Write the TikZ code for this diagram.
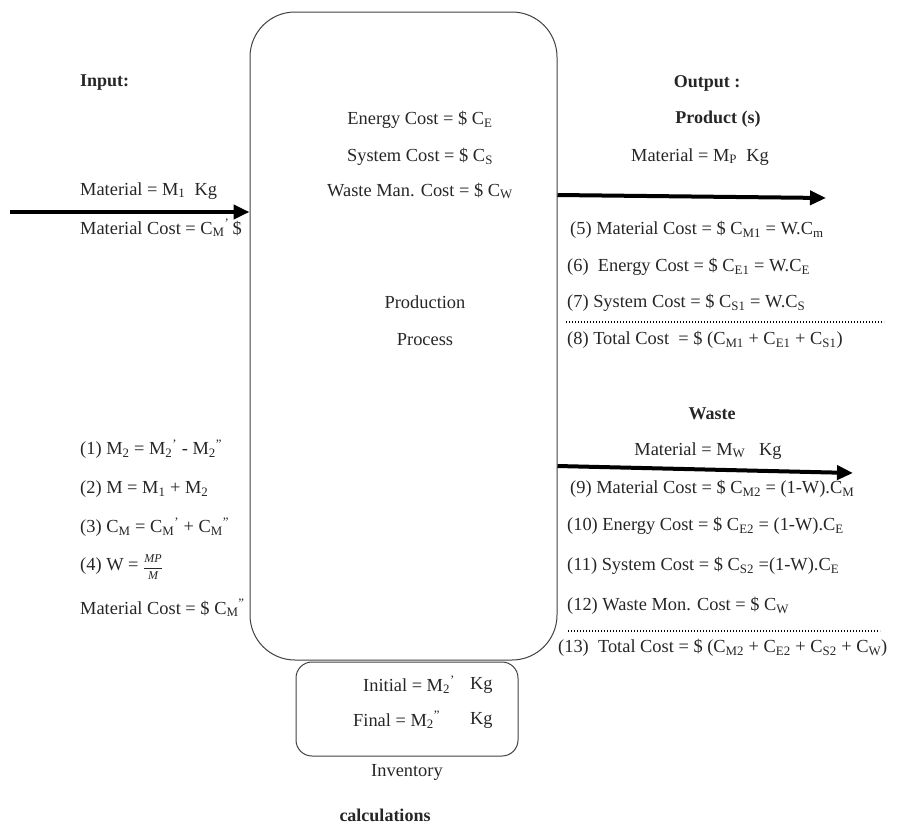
\documentclass[tikz,border=0pt]{standalone}
\usepackage{fontspec}
\setmainfont{Liberation Serif}
\usetikzlibrary{arrows.meta}
\newcommand\lowsub[1]{\textsubscript{#1}}
\newcommand\prm{\textsuperscript{'}}
\newcommand\dprm{\textsuperscript{''}}
\begin{document}
\begin{tikzpicture}[x=1pt,y=-1pt,
  txt/.style={font=\fontsize{18.4}{20}\selectfont, inner sep=0pt, anchor=west, text=black!85},
  ctxt/.style={font=\fontsize{18.4}{20}\selectfont, inner sep=0pt, text=black!85},
  btxt/.style={font=\fontsize{18}{20}\selectfont\bfseries, inner sep=0pt, text=black!85},
  bigarrow/.style={line width=4pt, -{Triangle[length=16pt,width=14pt]}},
  dotline/.style={line width=1.6pt, dash pattern=on 1.4pt off 1.6pt},
  boxline/.style={draw=black!75, line width=1pt}]
\useasboundingbox (0,0) rectangle (897,828);
% main process box
\node[boxline, rounded corners=45pt, minimum width=307pt, minimum height=648pt, inner sep=0pt] (proc) at (403.5,336) {};
% inventory box
\node[boxline, rounded corners=16pt, minimum width=222pt, minimum height=94pt, inner sep=0pt] (inv) at (407,709) {};

% input
\node[btxt, anchor=west] (inlbl) at (80,83) {Input:};
\node[txt] (inmat) at (80,191) {Material = M\lowsub{1}\ \ Kg};
\node[txt] (incost) at (80,228) {Material Cost = C\lowsub{M}\prm\,\$};
\coordinate (inStart) at (10,212);
\draw[bigarrow] (inStart) -- (inStart -| proc.west);

% process texts
\node[ctxt] (ec) at (420,120) {Energy Cost = \$ C\lowsub{E}};
\node[ctxt] (sc) at (420,157) {System Cost = \$ C\lowsub{S}};
\node[ctxt] (wc) at (420,191) {Waste Man. Cost = \$ C\lowsub{W}};
\node[ctxt] (prod) at (425,302) {Production};
\node[ctxt] (procl) at (425,340) {Process};

% output product
\node[btxt] (outlbl) at (707,83) {Output :};
\node[btxt] (prodlbl) at (718,119) {Product (s)};
\node[ctxt] (pmat) at (700,157) {Material = M\lowsub{P}\ \ Kg};
\coordinate (prodEnd) at (826,198);
\draw[bigarrow] (proc.east |- 0,195) -- (prodEnd);
\node[txt] (e5) at (570,230) {(5) Material Cost = \$ C\lowsub{M1} = W.C\lowsub{m}};
\node[txt] (e6) at (567,267) {(6)\ \ Energy Cost = \$ C\lowsub{E1} = W.C\lowsub{E}};
\node[txt] (e7) at (567,303) {(7) System Cost = \$ C\lowsub{S1} = W.C\lowsub{S}};
\coordinate (d1a) at (566,322);
\coordinate (d1b) at (884,322);
\draw[dotline] (d1a) -- (d1b);
\node[txt] (e8) at (567,340) {(8) Total Cost\ \ = \$ (C\lowsub{M1} + C\lowsub{E1} + C\lowsub{S1})};

% output waste
\node[btxt] (wlbl) at (712,414) {Waste};
\node[ctxt] (wmat) at (708,451) {Material = M\lowsub{W}\ \ \ Kg};
\coordinate (wEnd) at (853,473);
\draw[bigarrow] (proc.east |- 0,466) -- (wEnd);
\node[txt] (e9) at (570,489) {(9) Material Cost = \$ C\lowsub{M2} = (1-W).C\lowsub{M}};
\node[txt] (e10) at (567,526) {(10) Energy Cost = \$ C\lowsub{E2} = (1-W).C\lowsub{E}};
\node[txt] (e11) at (567,566) {(11) System Cost = \$ C\lowsub{S2} =(1-W).C\lowsub{E}};
\node[txt] (e12) at (567,606) {(12) Waste Mon. Cost = \$ C\lowsub{W}};
\coordinate (d2a) at (568,631);
\coordinate (d2b) at (880,631);
\draw[dotline] (d2a) -- (d2b);
\node[txt] (e13) at (558,648) {(13)\ \ Total Cost = \$ (C\lowsub{M2} + C\lowsub{E2} + C\lowsub{S2} + C\lowsub{W})};

% left equations
\node[txt] (e1) at (80,449) {(1) M\lowsub{2} = M\lowsub{2}\prm\ - M\lowsub{2}\dprm};
\node[txt] (e2) at (80,489) {(2) M = M\lowsub{1} + M\lowsub{2}};
\node[txt] (e3) at (80,527) {(3) C\lowsub{M} = C\lowsub{M}\prm\ + C\lowsub{M}\dprm};
\node[txt] (e4) at (80,567) {(4) W = {\fontsize{12}{13}\selectfont$\displaystyle\frac{\mathit{MP}}{\mathit{M}}$}};
\node[txt] (lmc) at (80,608) {Material Cost = \$ C\lowsub{M}\dprm};

% inventory
\node[txt] (ini) at (363,685) {Initial = M\lowsub{2}\prm};
\node[txt] (inikg) at (470,685) {Kg};
\node[txt] (fin) at (353,720) {Final = M\lowsub{2}\dprm};
\node[txt] (finkg) at (470,720) {Kg};
\node[ctxt] (invl) at (407,772) {Inventory};
\node[btxt] (calc) at (385,815) {calculations};
\end{tikzpicture}
\end{document}
